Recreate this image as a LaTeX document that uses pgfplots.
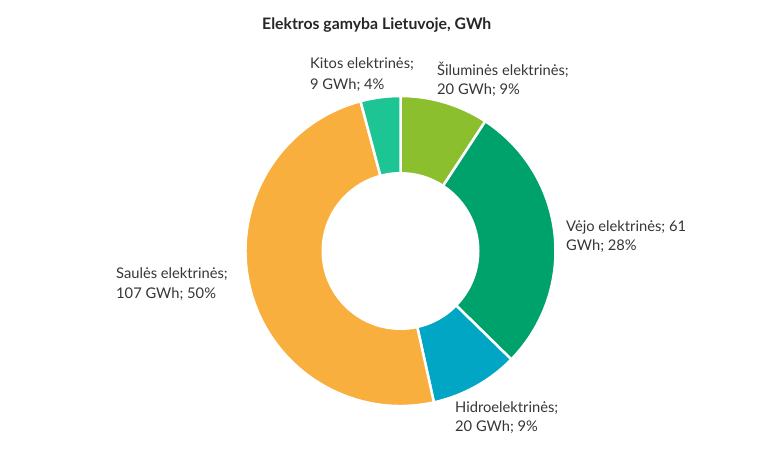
\documentclass[border=0pt]{standalone}
\usepackage{pgfplots}
\usepackage{pgfplotstable}
\pgfplotsset{compat=1.18}
\usepackage{fontspec}
\setmainfont{Lato}

\definecolor{siluma}{HTML}{8BBF2D}
\definecolor{vejas}{HTML}{00A26C}
\definecolor{hidro}{HTML}{00A6C4}
\definecolor{saule}{HTML}{F9AF3D}
\definecolor{kitos}{HTML}{1CC593}
\definecolor{txt}{HTML}{363636}

% GWh, clockwise from the top
\pgfplotstableread[col sep=comma]{
name,value,col
Siluminės,20,siluma
Vėjo,61,vejas
Hidro,20,hidro
Saulės,107,saule
Kitos,9,kitos
}\data

\begin{document}
\begin{tikzpicture}
\begin{axis}[
    hide axis,
    scale only axis,
    width=768pt, height=451pt,
    xmin=0, xmax=768, ymin=0, ymax=451,
    clip=false,
]
\path (axis cs:0,0) rectangle (axis cs:768,451);
\pgfplotstablegetrowsof{\data}
\pgfmathtruncatemacro\lastrow{\pgfplotsretval-1}
\def\total{0}
\pgfplotsforeachungrouped \i in {0,...,\lastrow}{
  \pgfplotstablegetelem{\i}{value}\of{\data}
  \pgfmathsetmacro\total{\total+\pgfplotsretval}
}
\def\cum{0}
\pgfplotsforeachungrouped \i in {0,...,\lastrow}{
  \pgfplotstablegetelem{\i}{value}\of{\data}\let\val\pgfplotsretval
  \pgfplotstablegetelem{\i}{col}\of{\data}\let\slicecol\pgfplotsretval
  \pgfmathsetmacro\angA{90-\cum/\total*360}
  \pgfmathsetmacro\cum{\cum+\val}
  \pgfmathsetmacro\angB{90-\cum/\total*360}
  \edef\temp{\noexpand\filldraw[fill=\slicecol, draw=white, line width=2.5pt]
    (axis cs:400.5,200) -- ++(\angA:155pt)
    arc[start angle=\angA, end angle=\angB, radius=155pt] -- cycle;}
  \temp
}
\fill[white] (axis cs:400.5,200) circle[radius=79pt];

\node[anchor=base west, font=\fontsize{15.8}{18}\selectfont\bfseries, text=black!85, inner sep=0pt]
  at (axis cs:262,421) {Elektros gamyba Lietuvoje, GWh};

\begin{scope}[every node/.style={anchor=base west, font=\fontsize{14.7}{18}\selectfont, text=txt, inner sep=0pt}]
\node at (axis cs:310,382) {Kitos elektrinės;};
\node at (axis cs:310,362) {9 GWh; 4\%};
\node at (axis cs:437,376) {Šiluminės elektrinės;};
\node at (axis cs:437,357) {20 GWh; 9\%};
\node at (axis cs:566,220) {Vėjo elektrinės; 61};
\node at (axis cs:566,201) {GWh; 28\%};
\node at (axis cs:455,39) {Hidroelektrinės;};
\node at (axis cs:455,20) {20 GWh; 9\%};
\node at (axis cs:116,173) {Saulės elektrinės;};
\node at (axis cs:116,153) {107 GWh; 50\%};
\end{scope}
\end{axis}
\end{tikzpicture}
\end{document}
